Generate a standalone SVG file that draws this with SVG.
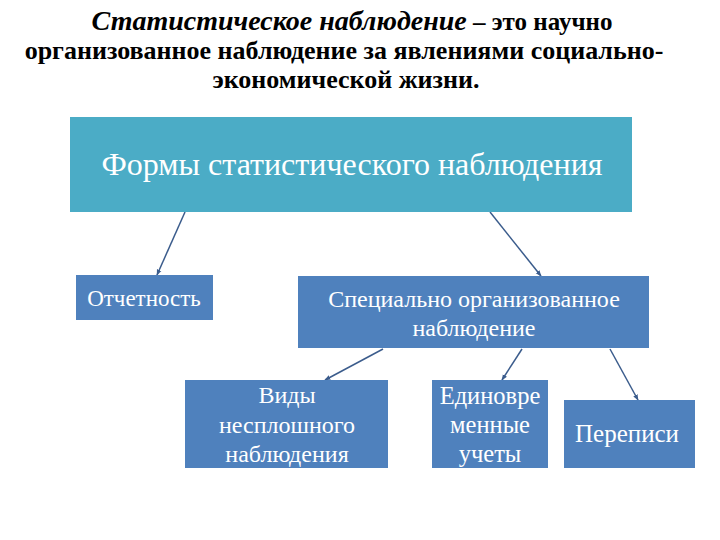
<svg xmlns="http://www.w3.org/2000/svg" width="720" height="540" viewBox="0 0 720 540">
<style>
.t{font-family:"Liberation Serif","Times New Roman",serif;font-weight:bold;fill:#000;text-anchor:middle}
.box{fill:#4F81BD}
.top{fill:#4BACC6}
.lbl{font-family:"Liberation Serif","Times New Roman",serif;fill:#fff;text-anchor:middle}
.c{stroke:#3B5C8C;stroke-width:1.5;fill:none;marker-end:url(#ah)}
</style>
<defs>
<marker id="ah" viewBox="0 0 10 10" refX="9" refY="5" markerWidth="4" markerHeight="4" orient="auto" markerUnits="strokeWidth">
<path d="M0,1 L10,5 L0,9 z" fill="#3B5C8C"/>
</marker>
</defs>
<rect width="720" height="540" fill="#fff"/>
<g id="title">
<text class="t" x="352" y="30" font-size="25"><tspan font-style="italic" font-size="28">Статистическое наблюдение</tspan> – это научно</text>
<text class="t" x="344" y="59" font-size="26">организованное наблюдение за явлениями социально-</text>
<text class="t" x="346" y="88" font-size="26">экономической жизни.</text>
</g>
<g id="connectors">
<line class="c" x1="185" y1="212" x2="157" y2="275"/>
<line class="c" x1="490" y1="212" x2="541" y2="276"/>
<line class="c" x1="383" y1="349" x2="325" y2="380"/>
<line class="c" x1="522" y1="349" x2="502" y2="380"/>
<line class="c" x1="610" y1="349" x2="638" y2="400"/>
</g>
<g id="forms">
<rect class="top" x="70" y="117" width="562" height="95"/>
<text class="lbl" x="352" y="175" font-size="32">Формы статистического наблюдения</text>
</g>
<g id="otchetnost">
<rect class="box" x="76" y="275" width="137" height="45"/>
<text class="lbl" x="144" y="306" font-size="23">Отчетность</text>
</g>
<g id="special">
<rect class="box" x="298" y="276" width="351" height="72"/>
<text class="lbl" x="474" y="307" font-size="24">Специально организованное</text>
<text class="lbl" x="474" y="336" font-size="24">наблюдение</text>
</g>
<g id="vidy">
<rect class="box" x="185" y="380" width="203" height="88"/>
<text class="lbl" x="287" y="403" font-size="24">Виды</text>
<text class="lbl" x="287" y="433" font-size="24">несплошного</text>
<text class="lbl" x="287" y="462" font-size="24">наблюдения</text>
</g>
<g id="edinovr">
<rect class="box" x="432" y="380" width="116" height="88"/>
<text class="lbl" x="490" y="404" font-size="24.5">Единовре</text>
<text class="lbl" x="490" y="433" font-size="24.5">менные</text>
<text class="lbl" x="490" y="462" font-size="24.5">учеты</text>
</g>
<g id="perepisi">
<rect class="box" x="564" y="400" width="131" height="68"/>
<text class="lbl" x="627" y="442" font-size="25">Переписи</text>
</g>
</svg>
